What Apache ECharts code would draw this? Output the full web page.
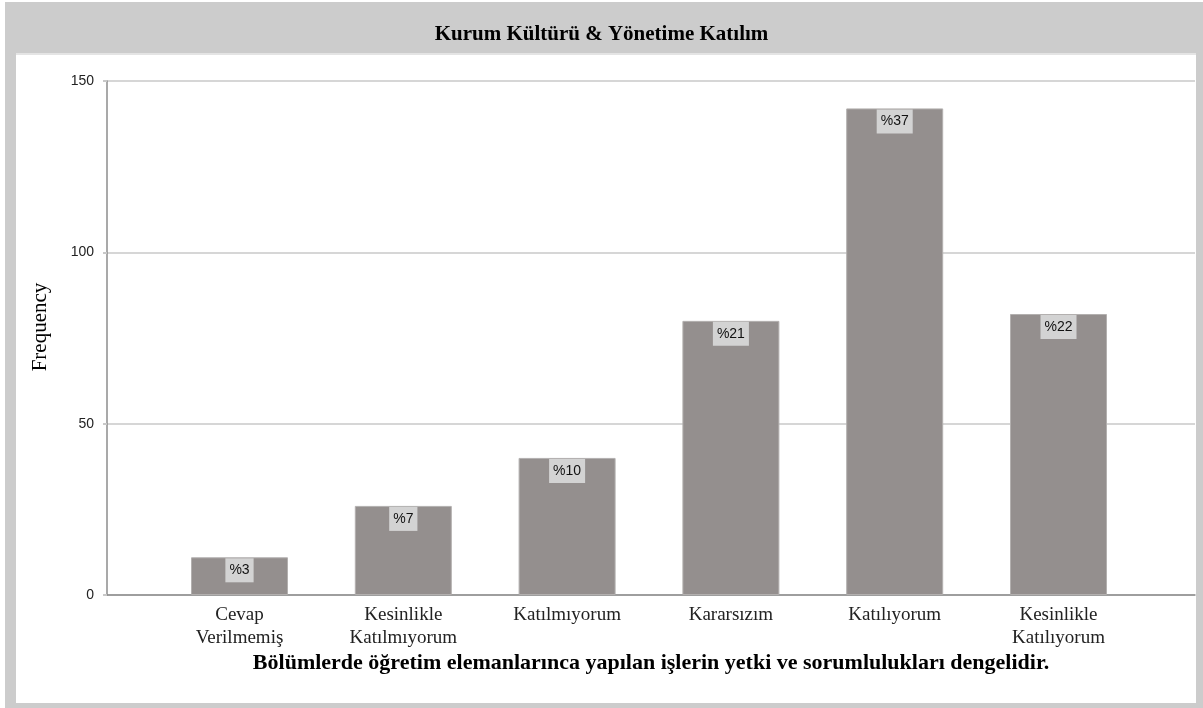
<!DOCTYPE html>
<html>
<head>
<meta charset="utf-8">
<script src="https://cdn.jsdelivr.net/npm/echarts@6/dist/echarts.min.js"></script>
<style>html,body{margin:0;padding:0;background:#fff}#c{width:1203px;height:708px}</style>
</head>
<body>
<div id="c"></div>
<script>
var titleText = 'Kurum Kültürü & Yönetime Katılım';
var xAxisName = 'Bölümlerde öğretim elemanlarınca yapılan işlerin yetki ve sorumlulukları dengelidir.';
var yAxisName = 'Frequency';
var categories = ['Cevap\nVerilmemiş', 'Kesinlikle\nKatılmıyorum', 'Katılmıyorum', 'Kararsızım', 'Katılıyorum', 'Kesinlikle\nKatılıyorum'];
var frequencies = [11, 26, 40, 80, 142, 82];
var pctLabels = ['%3', '%7', '%10', '%21', '%37', '%22'];
var yTicks = [0, 50, 100, 150];

var serif = '"Liberation Serif", "DejaVu Serif", serif';
var sans = '"Liberation Sans", Arial, sans-serif';
var yMin = yTicks[0], yMax = yTicks[yTicks.length - 1], yStep = yTicks[1] - yTicks[0];

var chart = echarts.init(document.getElementById('c'), null, {renderer: 'canvas'});
chart.setOption({
  animation: false,
  backgroundColor: '#ffffff',
  graphic: [
    {type: 'rect', z: -10, silent: true, shape: {x: 5, y: 2, width: 1198, height: 706}, style: {fill: '#cccccc'}},
    {type: 'rect', z: -9, silent: true, shape: {x: 16, y: 54, width: 1180, height: 649}, style: {fill: '#ffffff'}},
    {type: 'line', z: -8, silent: true, shape: {x1: 16, y1: 54, x2: 1196, y2: 54}, style: {stroke: '#e4e4e4', lineWidth: 2}}
  ],
  title: {
    text: titleText,
    left: 'center',
    top: 18,
    textStyle: {fontFamily: serif, fontSize: 21, fontWeight: 'bold', color: '#000', lineHeight: 24}
  },
  grid: [
    {left: 107, right: 8, top: 81, bottom: 113},
    {left: 157.6, right: 62.6, top: 81, bottom: 113}
  ],
  xAxis: [
    {type: 'value', gridIndex: 0, min: 0, max: 1,
      axisLine: {show: true, lineStyle: {color: '#8c8c8c', width: 1.5}},
      axisTick: {show: false}, axisLabel: {show: false}, splitLine: {show: false},
      name: xAxisName, nameLocation: 'middle', nameGap: 57,
      nameTextStyle: {fontFamily: serif, fontSize: 22, fontWeight: 'bold', color: '#000'}
    },
    {type: 'category', gridIndex: 1, data: categories,
      axisLine: {show: false}, axisTick: {show: false},
      axisLabel: {interval: 0, margin: 9, fontFamily: serif, fontSize: 19, lineHeight: 23, color: '#222', align: 'center'}
    }
  ],
  yAxis: [
    {type: 'value', gridIndex: 0, min: yMin, max: yMax, interval: yStep,
      axisLine: {show: true, lineStyle: {color: '#8c8c8c', width: 1.5}},
      axisTick: {show: true, length: 4, inside: false, lineStyle: {color: '#c8c8c8', width: 2}},
      axisLabel: {fontFamily: sans, fontSize: 14, color: '#222', margin: 13},
      splitLine: {show: true, lineStyle: {color: '#d6d6d6', width: 2}},
      name: yAxisName, nameLocation: 'middle', nameGap: 56, nameRotate: 90,
      nameTextStyle: {fontFamily: serif, fontSize: 21, color: '#000', padding: [0, 0, 0, 22]}
    },
    {type: 'value', gridIndex: 1, min: yMin, max: yMax, interval: yStep, show: false}
  ],
  series: [{
    type: 'bar',
    xAxisIndex: 1, yAxisIndex: 1,
    data: frequencies,
    barWidth: 97,
    itemStyle: {color: '#948f8e', borderColor: '#b3b0af', borderWidth: 1},
    label: {
      show: true, position: 'insideTop', distance: 1,
      formatter: function (p) { return pctLabels[p.dataIndex]; },
      fontFamily: sans, fontSize: 14, color: '#111',
      backgroundColor: '#d3d3d3', padding: [5, 4, 5, 4]
    }
  }]
});
</script>
</body>
</html>
